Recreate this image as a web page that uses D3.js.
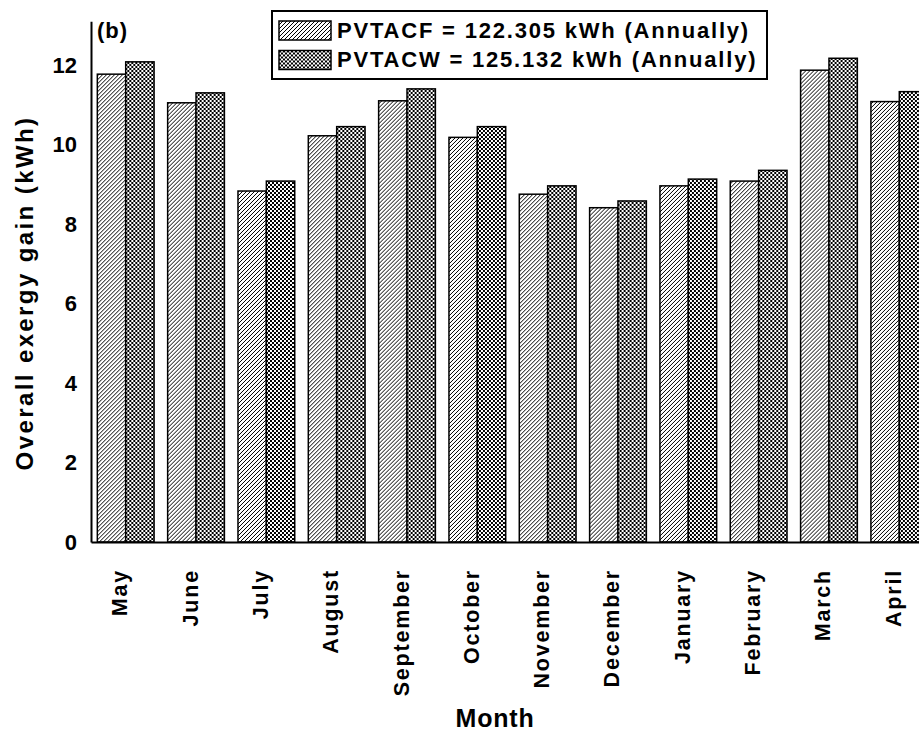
<!DOCTYPE html>
<html lang="en">
<head>
    <meta charset="UTF-8">
    <title>Overall exergy gain</title>
    <script src="https://d3js.org/d3.v7.min.js"></script>
    <style>
        body { margin: 0; background: #fff; }
        text { font-family: "Liberation Sans", Arial, sans-serif; font-weight: bold; fill: #000; }
    </style>
</head>
<body>
    <div id="chart"></div>
    <script>
        // Data
        const months = ["May", "June", "July", "August", "September", "October",
                        "November", "December", "January", "February", "March", "April"];
        const pvtacf = [11.77, 11.05, 8.83, 10.22, 11.1, 10.18, 8.75, 8.41, 8.96, 9.08, 11.87, 11.08];
        const pvtacw = [12.08, 11.3, 9.08, 10.45, 11.4, 10.45, 8.96, 8.58, 9.13, 9.35, 12.17, 11.33];
        const seriesNames = ["PVTACF", "PVTACW"];
        const legendLabels = ["PVTACF = 122.305 kWh (Annually)", "PVTACW = 125.132 kWh (Annually)"];
        const yTicks = [0, 2, 4, 6, 8, 10, 12];

        const width = 919;
        const height = 732;

        const svg = d3.select("#chart")
            .append("svg")
            .attr("width", width)
            .attr("height", height);

        // Hatch patterns
        const defs = svg.append("defs");
        const hatch = defs.append("pattern")
            .attr("id", "hatchF")
            .attr("patternUnits", "userSpaceOnUse")
            .attr("width", 4).attr("height", 4);
        hatch.append("rect").attr("width", 4).attr("height", 4).attr("fill", "#fff");
        hatch.append("path")
            .attr("d", "M-1,1 l2,-2 M0,4 l4,-4 M3,5 l2,-2")
            .attr("stroke", "#000")
            .attr("stroke-width", 1);

        const check = defs.append("pattern")
            .attr("id", "checkW")
            .attr("patternUnits", "userSpaceOnUse")
            .attr("width", 4).attr("height", 4);
        check.append("rect").attr("width", 4).attr("height", 4).attr("fill", "#fff");
        check.append("rect").attr("width", 2).attr("height", 2).attr("fill", "#000");
        check.append("rect").attr("x", 2).attr("y", 2).attr("width", 2).attr("height", 2).attr("fill", "#000");

        const fills = { PVTACF: "url(#hatchF)", PVTACW: "url(#checkW)" };

        // Scales
        const x0 = d3.scaleBand()
            .domain(months)
            .range([91, 934])
            .paddingInner(0.193)
            .paddingOuter(0.09);

        const x1 = d3.scaleBand()
            .domain(seriesNames)
            .range([0, x0.bandwidth()]);

        const y = d3.scaleLinear()
            .domain([0, 13.1])
            .range([542, 21.3]);

        const data = months.map((m, i) => ({ month: m, PVTACF: pvtacf[i], PVTACW: pvtacw[i] }));

        // Bars
        const groups = svg.append("g")
            .selectAll("g")
            .data(data)
            .join("g")
            .attr("transform", d => `translate(${x0(d.month)},0)`);

        groups.selectAll("rect")
            .data(d => seriesNames.map(k => ({ key: k, value: d[k] })))
            .join("rect")
            .attr("x", d => x1(d.key))
            .attr("y", d => y(d.value))
            .attr("width", x1.bandwidth())
            .attr("height", d => y(0) - y(d.value))
            .attr("fill", d => fills[d.key])
            .attr("stroke", "#000")
            .attr("stroke-width", 1.5);

        // Y axis
        const yAxis = svg.append("g")
            .attr("transform", "translate(91,0)")
            .call(d3.axisLeft(y).tickValues(yTicks).tickSize(0).tickSizeOuter(0).tickPadding(14));
        yAxis.select(".domain").attr("stroke", "#000").attr("stroke-width", 2);
        yAxis.selectAll("text")
            .style("font-family", "'Liberation Sans', Arial, sans-serif")
            .style("font-weight", "bold")
            .style("font-size", "22px");

        // X axis
        const xAxis = svg.append("g")
            .attr("transform", "translate(0,542)")
            .call(d3.axisBottom(x0).tickSize(0).tickSizeOuter(0));
        xAxis.select(".domain").attr("stroke", "#000").attr("stroke-width", 2);
        xAxis.selectAll("text")
            .attr("y", null)
            .attr("dy", null)
            .attr("text-anchor", "end")
            .attr("transform", "translate(1.5,27) rotate(-90)")
            .style("font-family", "'Liberation Sans', Arial, sans-serif")
            .style("font-weight", "bold")
            .style("font-size", "21.5px")
            .style("letter-spacing", "1.8px");

        // Axis titles
        svg.append("text")
            .attr("transform", "translate(33,293) rotate(-90)")
            .attr("text-anchor", "middle")
            .style("font-size", "24px")
            .style("letter-spacing", "2.4px")
            .text("Overall exergy gain (kWh)");

        svg.append("text")
            .attr("x", 495)
            .attr("y", 727)
            .attr("text-anchor", "middle")
            .style("font-size", "25px")
            .style("letter-spacing", "0.8px")
            .text("Month");

        svg.append("text")
            .attr("x", 97)
            .attr("y", 38)
            .style("font-size", "22px")
            .style("letter-spacing", "1px")
            .text("(b)");

        // Legend
        const legend = svg.append("g");
        legend.append("rect")
            .attr("x", 272).attr("y", 11)
            .attr("width", 495).attr("height", 68)
            .attr("fill", "#fff")
            .attr("stroke", "#000")
            .attr("stroke-width", 2);

        const items = legend.selectAll("g")
            .data(seriesNames)
            .join("g")
            .attr("transform", (d, i) => `translate(279,${21 + i * 29.5})`);

        items.append("rect")
            .attr("width", 52).attr("height", 19)
            .attr("fill", d => fills[d])
            .attr("stroke", "#000")
            .attr("stroke-width", 1.5);

        items.append("text")
            .attr("x", 58)
            .attr("y", 16.5)
            .style("font-size", "22px")
            .style("letter-spacing", "1.8px")
            .text((d, i) => legendLabels[i]);
    </script>
</body>
</html>
